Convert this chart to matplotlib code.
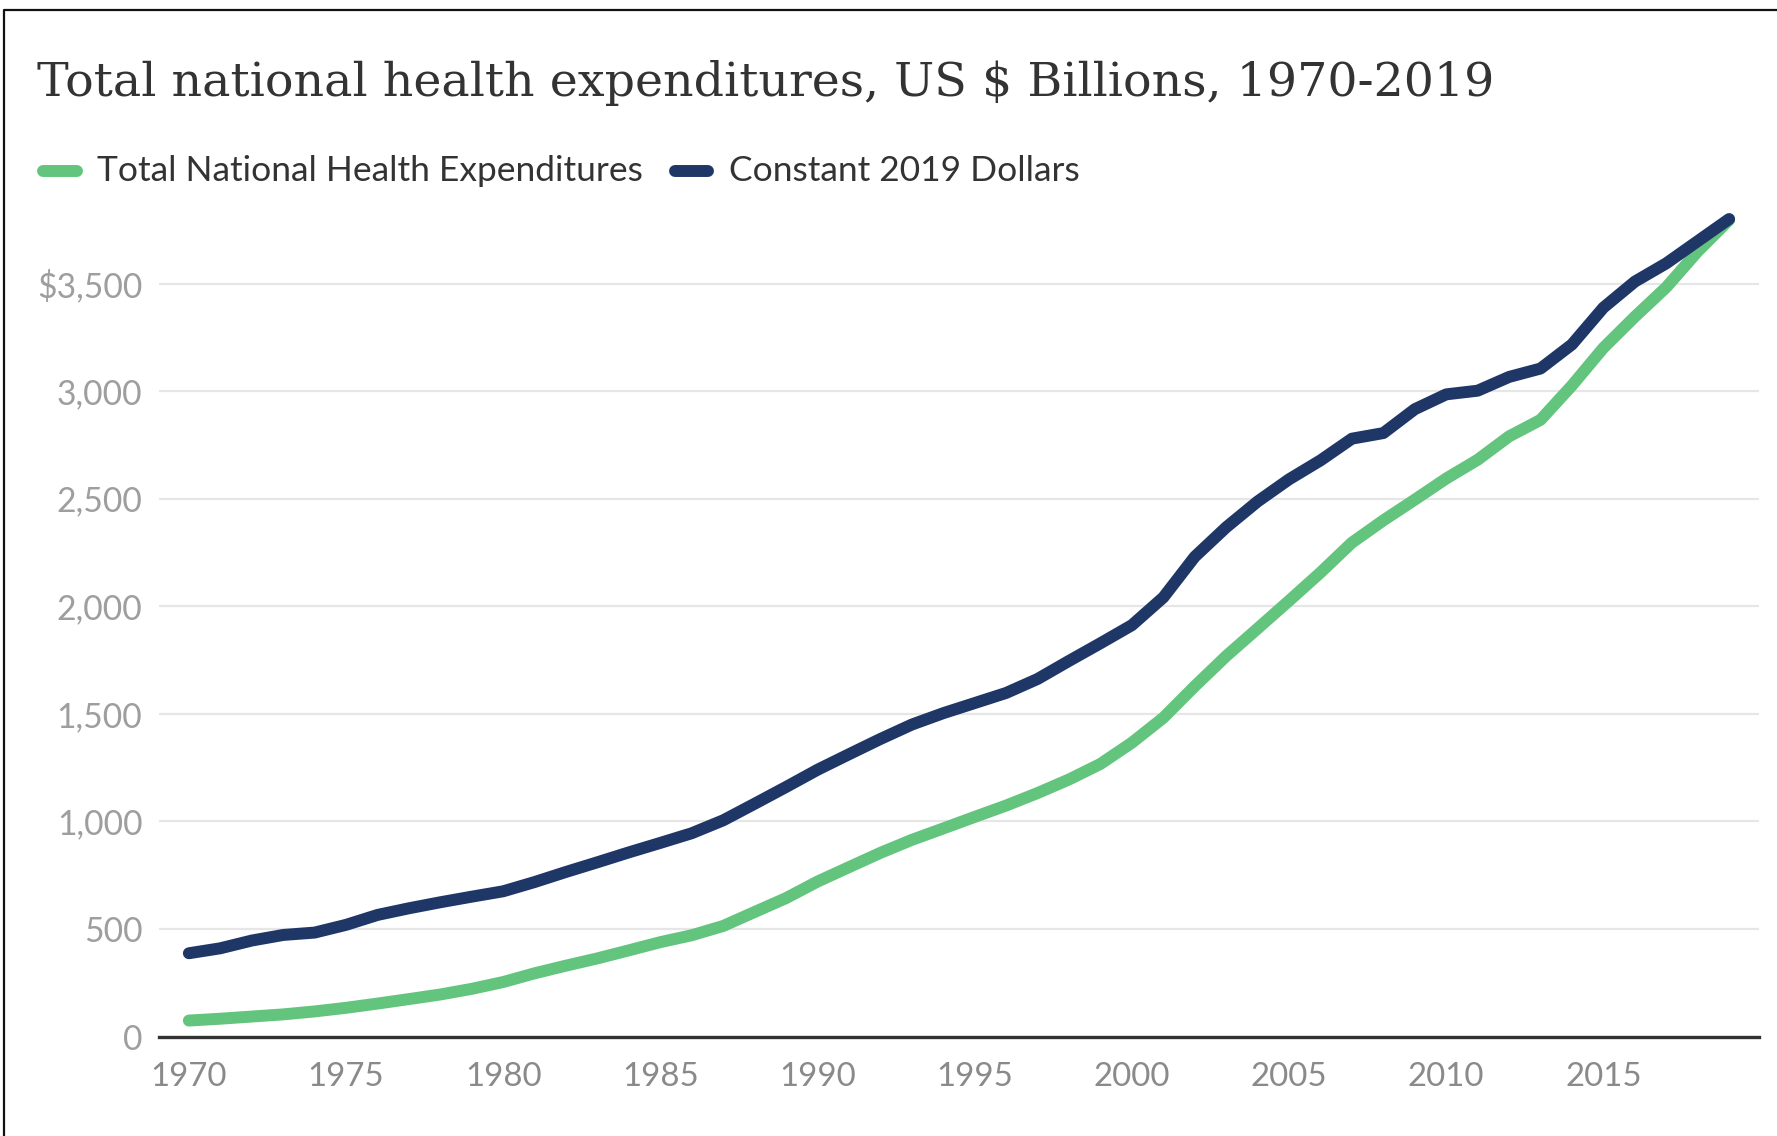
import matplotlib
matplotlib.use("Agg")
import matplotlib.pyplot as plt
from matplotlib.lines import Line2D
from matplotlib.ticker import FuncFormatter

# Annual totals, US $ billions
years = list(range(1970, 2020))
nominal = [74.1, 82.7, 92.7, 102.8, 116.5, 133.3, 153.0, 173.9, 195.3, 221.5,
           253.2, 293.8, 329.4, 363.2, 400.6, 438.6, 470.7, 513.9, 578.9, 643.4,
           720.2, 787.1, 853.7, 914.0, 967.1, 1020.8, 1073.6, 1131.7, 1194.8, 1267.1,
           1365.7, 1481.5, 1628.2, 1768.2, 1896.4, 2025.5, 2156.6, 2295.7, 2399.1, 2495.4,
           2593.7, 2680.9, 2789.7, 2866.4, 3026.2, 3200.8, 3345.6, 3482.7, 3649.4, 3795.4]
constant_2019 = [387, 410, 446, 472, 483, 519, 565, 596, 624, 650,
                 675, 718, 765, 810, 856, 900, 945, 1005, 1082, 1160,
                 1240, 1312, 1383, 1450, 1503, 1550, 1597, 1662, 1746, 1828,
                 1912, 2041, 2230, 2367, 2487, 2590, 2678, 2779, 2805, 2916,
                 2985, 3002, 3066, 3105, 3217, 3388, 3509, 3594, 3697, 3800]

series_labels = ["Total National Health Expenditures", "Constant 2019 Dollars"]
series_colors = ["#63c57d", "#1f3767"]
title_text = "Total national health expenditures, US $ Billions, 1970-2019"
x_ticks = [1970, 1975, 1980, 1985, 1990, 1995, 2000, 2005, 2010, 2015]
y_ticks = [0, 500, 1000, 1500, 2000, 2500, 3000, 3500]

W, H = 1777, 1136
fig = plt.figure(figsize=(W / 100, H / 100), dpi=100)
fig.patch.set_facecolor("white")

# axes box in pixel terms
left_px, right_px = 159, 1759
bottom_px, top_px = 1036.5, 176
ax = fig.add_axes([left_px / W, (H - bottom_px) / H,
                   (right_px - left_px) / W, (bottom_px - top_px) / H])

sans = ["Lato", "DejaVu Sans"]

lw = 8.6
ax.plot(years, nominal, color=series_colors[0], lw=lw,
        solid_capstyle="round", solid_joinstyle="round", zorder=3)
ax.plot(years, constant_2019, color=series_colors[1], lw=lw,
        solid_capstyle="round", solid_joinstyle="round", zorder=4)

ax.set_xlim(1969.05, 2019.95)
ax.set_ylim(0, 4000)
ax.set_xticks(x_ticks)
ax.set_yticks(y_ticks)
ax.yaxis.set_major_formatter(FuncFormatter(
    lambda v, p: f"${v:,.0f}" if v == 3500 else f"{v:,.0f}"))

for s in ["top", "right", "left"]:
    ax.spines[s].set_visible(False)
ax.spines["bottom"].set_color("#333333")
ax.spines["bottom"].set_linewidth(2.4)
ax.spines["bottom"].set_zorder(5)

ax.grid(axis="y", color="#e6e6e6", lw=1.6, zorder=0)
ax.grid(axis="x", visible=False)
ax.set_axisbelow(True)

ax.tick_params(axis="both", length=0)
ax.tick_params(axis="x", pad=18, labelsize=23.8, labelcolor="#8a8a8a")
ax.tick_params(axis="y", pad=12, labelsize=24.2, labelcolor="#9e9e9e")
for lab in ax.get_xticklabels() + ax.get_yticklabels():
    lab.set_family(sans)

# title
fig.text(37 / W, 1 - 96 / H, title_text, family=["DejaVu Serif"],
         fontsize=34.2, color="#333333", va="baseline", ha="left")

# legend drawn as pills + labels
leg_y = 1 - 171 / H
pill_lw = 8.6
for (x0, x1, tx), lab, col in zip([(43, 77, 97), (675, 708, 729)],
                                  series_labels, series_colors):
    fig.add_artist(Line2D([x0 / W, x1 / W], [leg_y, leg_y], transform=fig.transFigure,
                          color=col, lw=pill_lw, solid_capstyle="round"))
    fig.text(tx / W, leg_y, lab, family=sans, fontsize=25.5, color="#333333",
             va="center", ha="left")

# outer frame on the left and top
fig.add_artist(Line2D([4 / W, 4 / W, 1.0], [0.0, 1 - 10 / H, 1 - 10 / H],
                      transform=fig.transFigure, color="#111111", lw=1.6))

fig.savefig("out.png", dpi=100, facecolor="white")
